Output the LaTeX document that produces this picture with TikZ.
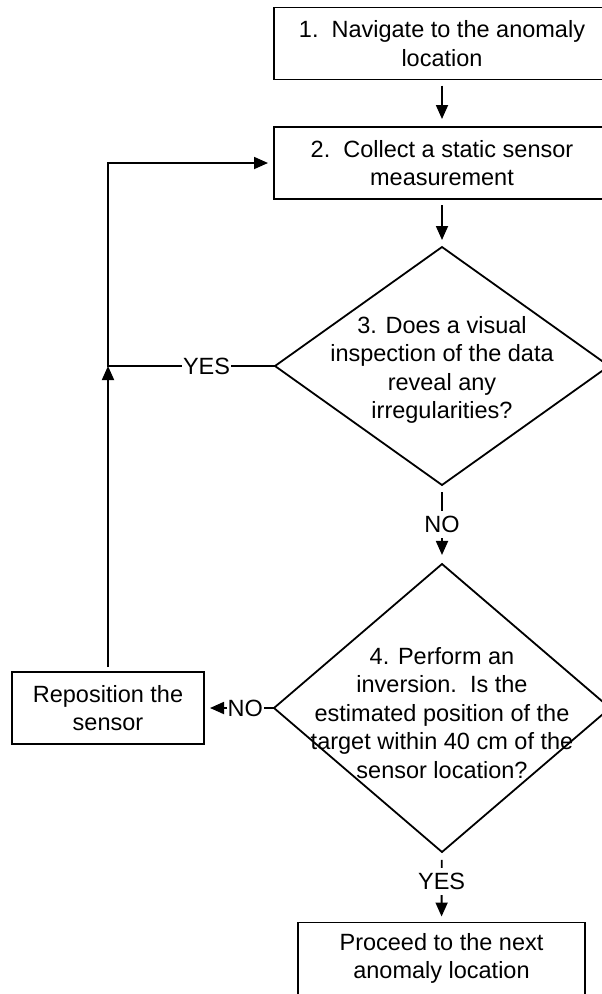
\documentclass[tikz,border=0pt]{standalone}
\usepackage{fontspec}
\setmainfont{Liberation Sans}
\usetikzlibrary{shapes.geometric,arrows.meta}

\begin{document}
\begin{tikzpicture}[x=1pt, y=1pt, yscale=-1, inner sep=0pt, outer sep=0pt,
	every node/.style={font=\fontsize{23.5pt}{28.5pt}\selectfont},
	box/.style={rectangle, draw=black, line width=1.8, minimum width=336, minimum height=72, align=center},
	decision/.style={diamond, draw=black, line width=1.8},
	flow/.style={-{Triangle[length=14pt,width=12pt]}, line width=1.8},
	lbl/.style={fill=white, inner xsep=1pt, inner ysep=5pt}]
\clip (0,0) rectangle (602,994);
	\node[box] (n1) at (442,43.5) {1.\ \ Navigate to the anomaly\\location};
	\node[box] (n2) at (442,163) {2.\ \ Collect a static sensor\\measurement};
	\node[decision, minimum width=334, minimum height=238] (d3) at (442,366) {};
	\node[align=center] (d3t) at (442,370) {3. Does a visual\\inspection of the data\\reveal any\\irregularities?};
	\node[decision, minimum width=336, minimum height=288] (d4) at (442,708) {};
	\node[align=center] (d4t) at (442,713) {4. Perform an\\inversion.\ \ Is the\\estimated position of the\\target within 40 cm of the\\sensor location?};
	\node[box, minimum width=192] (rep) at (108,708) {Reposition the\\sensor};
	\node[box, minimum width=287] (n5) at (441.5,958.5) {Proceed to the next\\anomaly location};
	\coordinate (j) at (rep.north |- d3.west);
	% main line
	\draw[flow, shorten <=6, shorten >=8] (n1) -- (n2);
	\draw[flow, shorten <=6, shorten >=7] (n2) -- (d3);
	\draw[flow, shorten <=7, shorten >=9] (d3) -- node[lbl]{NO} (d4);
	\draw[flow, shorten <=8, shorten >=6] (d4) -- node[lbl, pos=0.42]{YES} (n5);
	% loop back
	\draw[flow, shorten >=6] (d3.west) -- node[lbl, pos=0.41]{YES} (j) |- (n2.west);
	\draw[flow, shorten >=6] (d4.west) -- node[lbl, pos=0.41]{NO} (rep.east);
	\draw[flow, shorten <=5] (rep) -- (j);
\end{tikzpicture}
\end{document}
